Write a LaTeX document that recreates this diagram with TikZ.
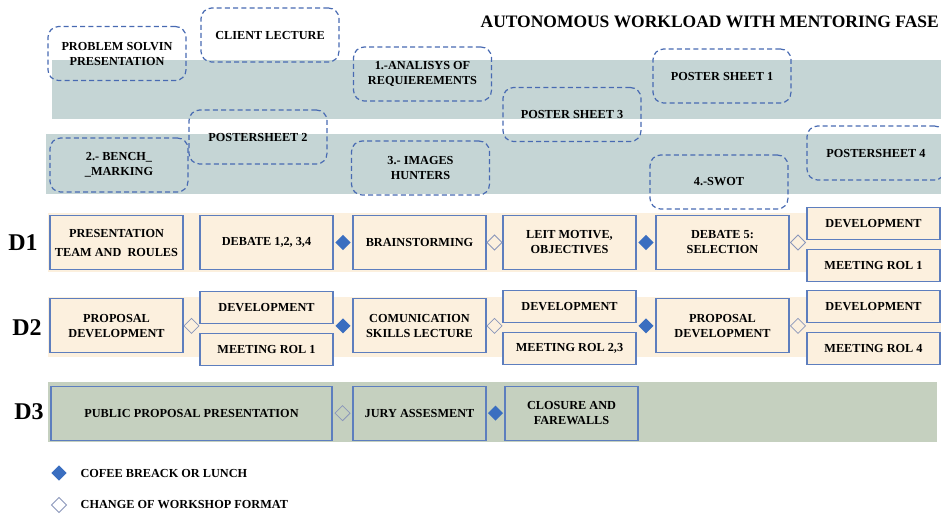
\documentclass[tikz,border=0pt]{standalone}
\usepackage{fontspec}
\setmainfont{Liberation Serif}
\usetikzlibrary{positioning,shapes,calc}
\definecolor{bandteal}{RGB}{197,213,213}
\definecolor{bandbeige}{RGB}{252,240,222}
\definecolor{bandsage}{RGB}{197,208,191}
\definecolor{boxblue}{RGB}{93,126,190}
\definecolor{dashblue}{RGB}{72,106,178}
\definecolor{diablue}{RGB}{58,110,192}
\definecolor{diagray}{RGB}{138,150,186}
\newcommand{\boxfont}{\bfseries\fontsize{9.2}{11.25}\selectfont}

\begin{document}
\begin{tikzpicture}[x=0.75pt, y=-0.75pt,
        dashbox/.style={draw=dashblue, line width=0.9pt, dash pattern=on 3.75pt off 2.4pt, rounded corners=8pt, minimum width=103.5pt, minimum height=40.5pt, outer sep=0pt, align=center, font=\boxfont},
        daybox/.style={draw=boxblue, line width=0.9pt, fill=bandbeige, minimum width=99.75pt, minimum height=40.5pt, outer sep=0pt, align=center, font=\boxfont},
        halfbox/.style={daybox, minimum height=24pt},
        fulldia/.style={shape=diamond, fill=diablue, minimum size=11.5pt, inner sep=0pt},
        opendia/.style={shape=diamond, draw=diagray, line width=0.6pt, minimum size=11.5pt, inner sep=0pt},
        daylab/.style={font=\bfseries\fontsize{18}{20}\selectfont, inner sep=0pt},
        legtext/.style={font=\boxfont, inner sep=0pt}]
        \useasboundingbox (0,0) rectangle (941,515);
        \fill[bandteal] (52,60) rectangle (941,119);
        \fill[bandteal] (46,134) rectangle (941,194);
        \fill[bandbeige] (48,213) rectangle (941,272);
        \fill[bandbeige] (48,297) rectangle (941,357);
        \fill[bandsage] (48,382) rectangle (937,442);

        \node[font=\bfseries\fontsize{13.1}{15}\selectfont, anchor=base east, inner sep=0pt] (title) at (939,27) {AUTONOMOUS WORKLOAD WITH MENTORING FASE};

        \node[dashbox] (prob) at (117,53.5) {PROBLEM SOLVIN\\PRESENTATION};
        \node[dashbox] (client) at (270,35) {CLIENT LECTURE};
        \node[dashbox] (anal) at (422.5,74) {1.-ANALISYS OF\\REQUIEREMENTS};
        \node[dashbox] (ps2) at (258,137) {POSTERSHEET 2};
        \node[dashbox] (bench) at (119,165) {2.- BENCH\_\\\_MARKING};
        \node[dashbox] (images) at (420.5,168) {3.- IMAGES\\HUNTERS};
        \node[dashbox] (ps3) at (572,114.5) {POSTER SHEET 3};
        \node[dashbox] (ps1) at (722,76) {POSTER SHEET 1};
        \node[dashbox] (swot) at (719,182) {4.-SWOT};
        \node[dashbox] (ps4) at (876,153) {POSTERSHEET 4};

        \node[daybox] (pres) at (116.5,242.5) {PRESENTATION\\[3pt]TEAM AND~ ROULES};
        \node[daybox] (deb1) [right=12.75pt of pres] {DEBATE 1,2, 3,4};
        \node[daybox] (brain) [right=15pt of deb1] {BRAINSTORMING};
        \node[daybox] (leit) [right=12.75pt of brain] {LEIT MOTIVE,\\OBJECTIVES};
        \node[daybox] (deb5) [right=15pt of leit] {DEBATE 5:\\SELECTION};
        \node[halfbox, anchor=south west] (dev1) at ($(deb5.east)+(13.5pt,2.25pt)$) {DEVELOPMENT};
        \node[halfbox, anchor=north west] (meet1) at ($(deb5.east)+(13.5pt,-5.25pt)$) {MEETING ROL 1};
        \node[fulldia] (c1) at ($(deb1.east)!0.5!(brain.west)$) {};
        \node[opendia] (f1) at ($(brain.east)!0.5!(leit.west)$) {};
        \node[fulldia] (c2) at ($(leit.east)!0.5!(deb5.west)$) {};
        \node[opendia] (f2) at ($(deb5.east)!0.5!(dev1.west |- deb5.east)$) {};

        \node[daybox] (prop1) [below=22pt of pres] {PROPOSAL\\DEVELOPMENT};
        \node[halfbox, anchor=south west] (dev2) at ($(prop1.east)+(12.75pt,1.5pt)$) {DEVELOPMENT};
        \node[halfbox, anchor=north west] (meet2) at ($(prop1.east)+(12.75pt,-6pt)$) {MEETING ROL 1};
        \node[daybox] (comm) [below=22pt of brain] {COMUNICATION\\SKILLS LECTURE};
        \node[halfbox, anchor=south west] (dev3) at ($(comm.east)+(12.75pt,2.25pt)$) {DEVELOPMENT};
        \node[halfbox, anchor=north west] (meet3) at ($(comm.east)+(12.75pt,-5.25pt)$) {MEETING ROL 2,3};
        \node[daybox] (prop2) [below=22pt of deb5] {PROPOSAL\\DEVELOPMENT};
        \node[halfbox, anchor=south west] (dev4) at ($(prop2.east)+(13.5pt,2.25pt)$) {DEVELOPMENT};
        \node[halfbox, anchor=north west] (meet4) at ($(prop2.east)+(13.5pt,-5.25pt)$) {MEETING ROL 4};
        \node[opendia] (f3) at ($(prop1.east)!0.5!(dev2.west |- prop1.east)$) {};
        \node[fulldia] (c3) at ($(dev2.east |- comm.west)!0.5!(comm.west)$) {};
        \node[opendia] (f4) at ($(comm.east)!0.5!(dev3.west |- comm.east)$) {};
        \node[fulldia] (c4) at ($(dev3.east |- prop2.west)!0.5!(prop2.west)$) {};
        \node[opendia] (f5) at ($(prop2.east)!0.5!(dev4.west |- prop2.east)$) {};

        \node[daybox, fill=bandsage] (jury) [below=25pt of comm] {JURY ASSESMENT};
        \node[daybox, fill=bandsage, minimum width=210.75pt] (pub) [left=15.75pt of jury] {PUBLIC PROPOSAL PRESENTATION};
        \node[daybox, fill=bandsage] (close) [right=14.25pt of jury] {CLOSURE AND\\FAREWALLS};
        \node[opendia] (f6) at ($(pub.east)!0.5!(jury.west)$) {};
        \node[fulldia] (c5) at ($(jury.east)!0.5!(close.west)$) {};

        \node[daylab] (d1) at (23,243) {D1};
        \node[daylab] (d2) at (27,328) {D2};
        \node[daylab] (d3) at (29,412) {D3};

        \node[fulldia] (lg1) at (59,473) {};
        \node[legtext] (lt1) [right=10pt of lg1] {COFEE BREACK OR LUNCH};
        \node[opendia] (lg2) at (59,505) {};
        \node[legtext] (lt2) [right=10pt of lg2] {CHANGE OF WORKSHOP FORMAT};
\end{tikzpicture}
\end{document}
